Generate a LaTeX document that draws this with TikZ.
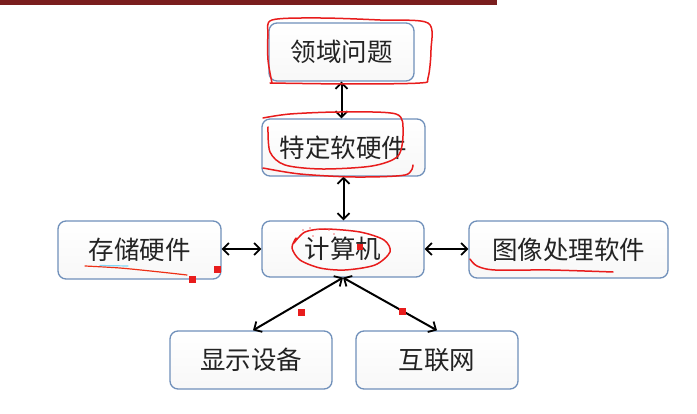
\documentclass[tikz,border=0pt]{standalone}
\usepackage{fontspec}
\newfontfamily\cjk{Noto Sans CJK SC}
\usetikzlibrary{arrows.meta}
\definecolor{boxborder}{RGB}{112,144,186}
\definecolor{bartop}{RGB}{122,30,30}
\definecolor{txt}{RGB}{35,35,35}
\definecolor{pen}{RGB}{232,28,28}
\tikzset{
  box/.style={draw=boxborder, line width=1.3pt, rounded corners=8pt,
    top color=white, bottom color=black!3, text=txt,
    font=\cjk\fontsize{25.5}{30}\selectfont, inner sep=0pt},
  link/.style={line width=2pt, black,
    {Straight Barb[length=6pt,width=12pt,line width=1.8pt]}-{Straight Barb[length=6pt,width=12pt,line width=1.8pt]}},
  penline/.style={pen, line width=1.5pt, line cap=round, line join=round},
  redsq/.style={fill=pen},
}
\begin{document}
\begin{tikzpicture}[x=1pt,y=-1pt]
\useasboundingbox (0,0) rectangle (697,414);
\fill[white] (0,0) rectangle (697,414);
\fill[bartop] (0,0) rectangle (497,5);

\node[box, minimum width=145pt, minimum height=58pt] (ly) at (341.5,52) {领域问题};
\node[box, minimum width=163pt, minimum height=57pt] (td) at (343.5,147.5) {特定软硬件};
\node[box, minimum width=162pt, minimum height=56pt] (js) at (343,249) {计算机};
\node[box, minimum width=163pt, minimum height=58pt] (cc) at (139.5,250) {存储硬件};
\node[box, minimum width=199pt, minimum height=57pt] (tx) at (568.5,249.5) {图像处理软件};
\node[box, minimum width=162pt, minimum height=58pt] (xs) at (251,360) {显示设备};
\node[box, minimum width=162pt, minimum height=58pt] (hl) at (437,360) {互联网};

\draw[link] (ly.south) -- (ly.south |- td.north);
\draw[link] (td.south) -- (td.south |- js.north);
\draw[link] (cc.east |- js.west) -- (js.west);
\draw[link] (js.east) -- (js.east -| tx.west);
\draw[link] (js.south) -- ([xshift=2pt]xs.north);
\draw[link] (js.south) -- (hl.north);

% hand annotations
\draw[penline] plot[smooth] coordinates {(272,83) (268,60) (268,35) (272,20) (320,18) (380,20) (428,23) (431,50) (428,78) (420,83) (350,84) (270,83)};
\draw[penline] plot[smooth] coordinates {(268,127) (270,152) (285,165) (322,169) (372,166) (398,156) (403,132) (396,114) (340,112) (290,114) (263,118)};
\draw[penline] plot[smooth] coordinates {(263,168) (300,174) (355,177) (405,175) (413,165)};
\draw[penline] plot[smooth] coordinates {(296,238) (292,248) (300,260) (320,268) (345,270) (375,265) (390,252) (384,240) (360,232) (325,229) (305,232) (294,243)};
\draw[penline, line width=1.2pt, pen!80!orange] plot[smooth] coordinates {(85,266) (120,268) (160,272) (187,275)};
\draw[cyan!50, line width=1.2pt, line cap=round] (100,265.5) -- (128,266);
\draw[penline] plot[smooth] coordinates {(470,259) (477,266) (495,270) (550,270) (613,272)};

\fill[redsq] (188.5,276.5) rectangle +(7,7);
\fill[redsq] (213.5,266.5) rectangle +(7,7);
\fill[redsq] (297.5,309.5) rectangle +(7,7);
\fill[redsq] (398.5,308.5) rectangle +(7,7);
\fill[redsq] (357,244) rectangle +(6,6);
\foreach \p in {(303,230),(310,228),(318,229),(329,230),(334,234),(313,236)}
  \fill[pen!60] \p circle (0.9pt);
\end{tikzpicture}
\end{document}
